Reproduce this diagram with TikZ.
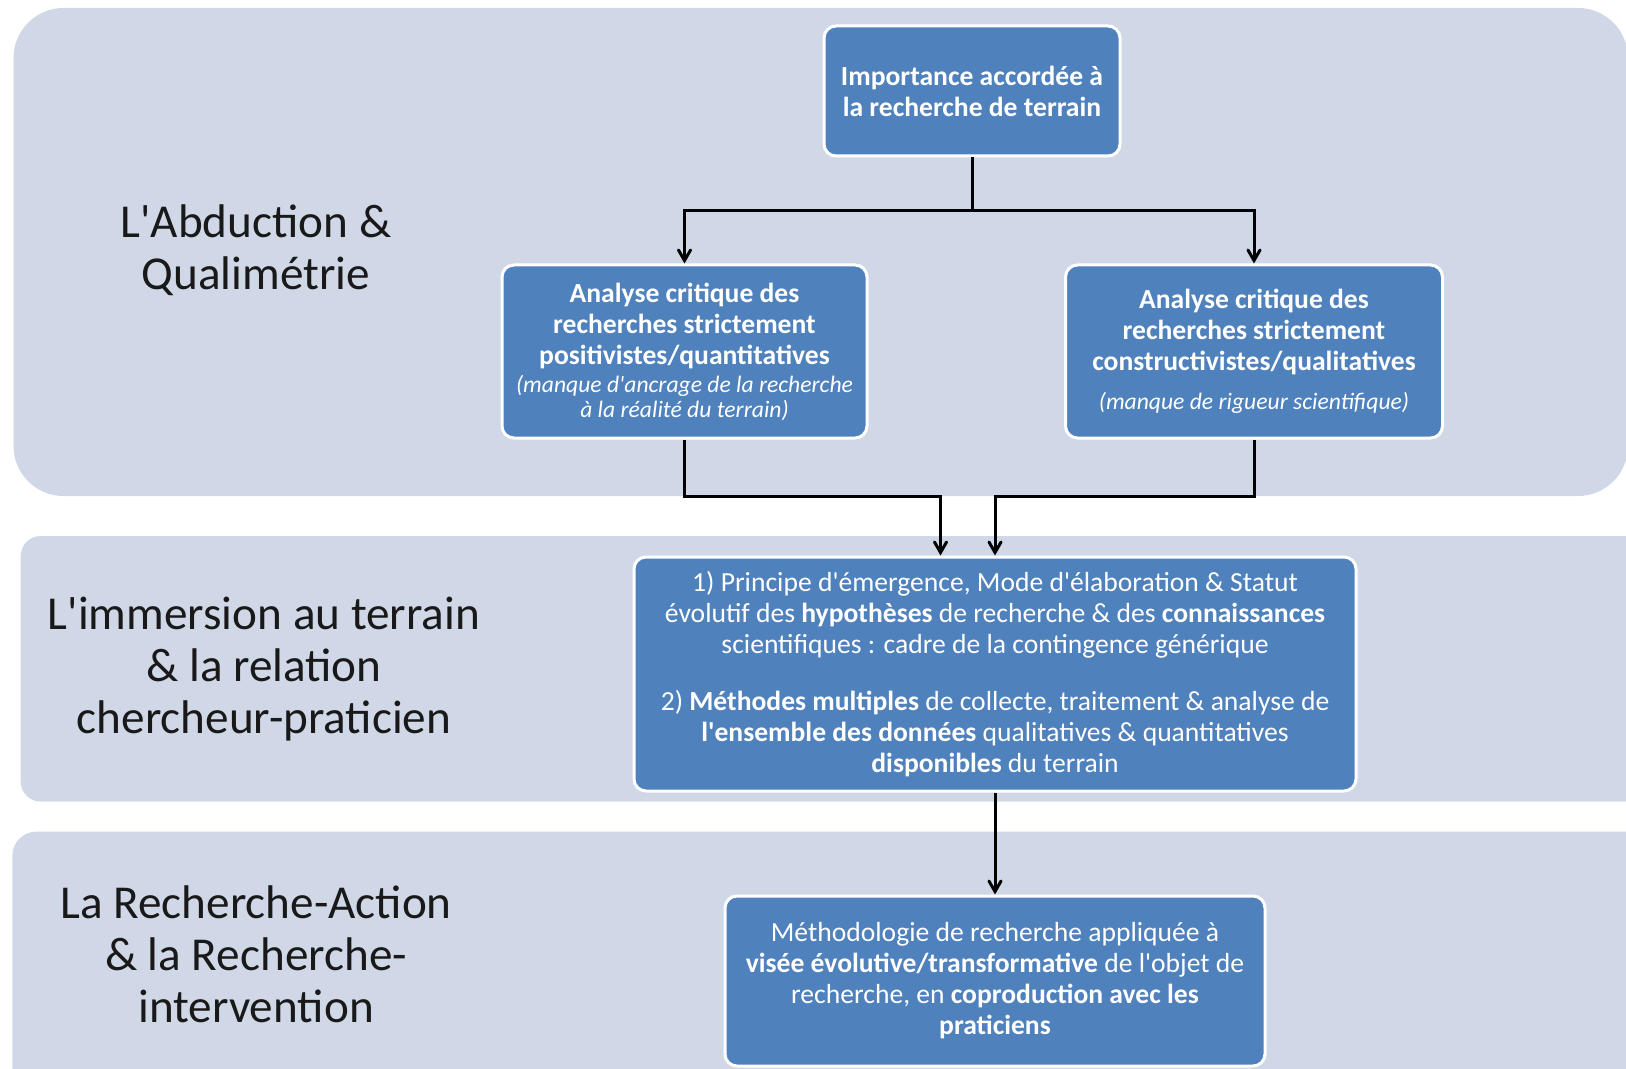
\documentclass[tikz,border=0pt]{standalone}
\usepackage{fontspec}
\setmainfont{Carlito}[Ligatures=TeXOff]
\usetikzlibrary{arrows}
\definecolor{bandgray}{HTML}{D0D8E8}
\definecolor{boxblue}{HTML}{4F81BD}

\begin{document}
\begin{tikzpicture} [x = 0.5pt, y = -0.5pt,
  band/.style = {fill = bandgray},
  bluebox/.style = {rectangle, rounded corners = 6pt, fill = boxblue, draw = white, line width = 1.5pt, text = white, align = center, font = \fontsize{13.8}{15.5}\selectfont},
  sidelabel/.style = {align = center, font = \fontsize{23.6}{26}\selectfont, text = black!90},
  link/.style = {line width = 1.5pt, -angle 60}]
\useasboundingbox (0,0) rectangle (1626,1069);
\fill [band, rounded corners = 25pt] (13.5,8) rectangle (1628,496);
\fill [band, rounded corners = 10pt] (20.7,536) rectangle (1660,801.6);
\fill [band, rounded corners = 12pt] (12.4,831.6) rectangle (1660,1100);

\node[sidelabel] (abd) at (256,250) {L'Abduction \&\\Qualimétrie};
\node[sidelabel] (imm) at (264,669) {L'immersion au terrain\\\& la relation\\chercheur-praticien};
\node[sidelabel] (ract) at (256,954) {La Recherche-Action\\\& la Recherche-\\intervention};

\node[bluebox, font = \fontsize{13.8}{15.5}\selectfont\bfseries, minimum width = 148pt, minimum height = 65pt] (imp) at (972,91) {Importance accordée à\\la recherche de terrain};
\node[bluebox, font = \fontsize{13.8}{15.5}\selectfont\bfseries, minimum width = 182.5pt, minimum height = 86.5pt] (pos) at (684.5,351.5) {Analyse critique des\\recherches strictement\\positivistes/quantitatives\\[-1.5pt]{\mdseries\itshape\fontsize{11.8}{12.5}\selectfont (manque d'ancrage de la recherche}\\[-3pt]{\mdseries\itshape\fontsize{11.8}{12.5}\selectfont à la réalité du terrain)}};
\node[bluebox, font = \fontsize{13.8}{15.5}\selectfont\bfseries, minimum width = 188.5pt, minimum height = 86.5pt] (qual) at (1254,351.5) {Analyse critique des\\recherches strictement\\constructivistes/qualitatives\\[4pt]{\mdseries\itshape\fontsize{11.8}{12.5}\selectfont (manque de rigueur scientifique)}};
\node[bluebox, minimum width = 361pt, minimum height = 117pt] (mid) at (995,674) {1) Principe d'émergence, Mode d'élaboration \& Statut\\évolutif des \textbf{hypothèses} de recherche \& des \textbf{connaissances}\\scientifiques : cadre de la contingence générique\\[13pt]2) \textbf{Méthodes multiples} de collecte, traitement \& analyse de\\\textbf{l'ensemble des données} qualitatives \& quantitatives\\\textbf{disponibles} du terrain};
\node[bluebox, minimum width = 270pt, minimum height = 85pt] (act) at (995,981) {Méthodologie de recherche appliquée à\\\textbf{visée évolutive/transformative} de l'objet de\\recherche, en \textbf{coproduction avec les}\\\textbf{praticiens}};

\coordinate (split) at (972,210.5);
\coordinate (mergeL) at (940.5,496);
\coordinate (mergeR) at (995,496);
\draw [link](imp.south) -- (split) -| (pos.north);
\draw [link](split) -| (qual.north);
\draw [link](pos.south) |- (mergeL) -- (mergeL |- mid.north);
\draw [link](qual.south) |- (mergeR) -- (mid.north);
\draw [link](mid.south) -- (act.north);
\end{tikzpicture}
\end{document}
